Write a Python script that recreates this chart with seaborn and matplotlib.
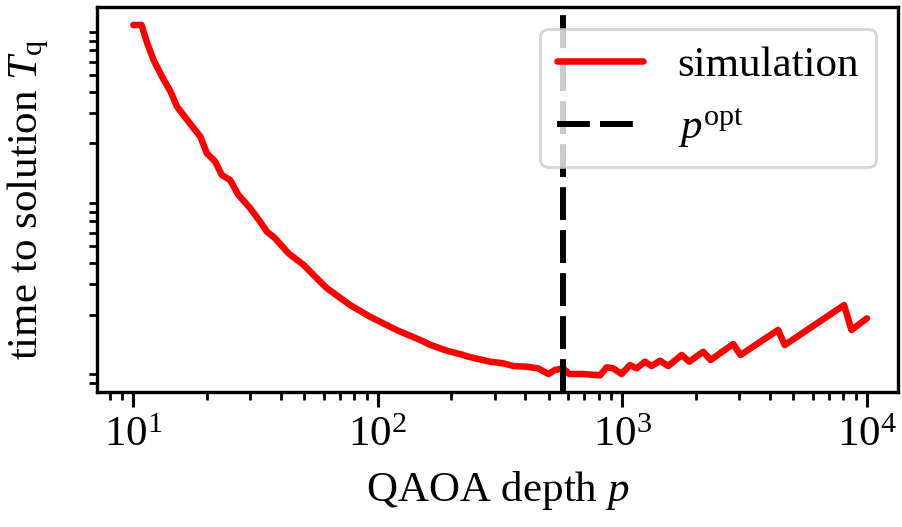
import numpy as np
import pandas as pd
import seaborn as sns
import matplotlib
matplotlib.use("Agg")
import matplotlib.pyplot as plt
from matplotlib.ticker import NullFormatter

# ── data ────────────────────────────────────────────────────────────────
depth_p = [10, 10.8, 11.4, 12.1, 13.1, 14.2, 15.1, 16.6, 18.8, 20.0,
           21.6, 23.0, 24.9, 26.9, 30.0, 33.0, 35.2, 38.0, 43.1, 49.7,
           57.2, 61.9, 77.1, 93.0, 119.7, 148.9, 163.7, 191.4, 216.8, 234.5,
           287.6, 326, 358, 406, 453, 498, 530, 573, 607, 692,
           810, 863, 918, 993, 1074, 1144, 1237, 1318, 1425, 1541,
           1748, 1877, 2142, 2296, 2840, 3043, 4333, 4616, 8070, 8650,
           10000]
time_tq = [98.6, 98.6, 77.1, 61.5, 49.2, 40.2, 32.8, 27.5, 21.9, 17.5,
           15.7, 13.1, 12.2, 10.0, 8.4, 6.98, 6.10, 5.58, 4.56, 3.90,
           3.18, 2.85, 2.27, 1.94, 1.62, 1.42, 1.33, 1.229, 1.175, 1.134,
           1.060, 1.037, 1.0, 0.991, 0.969, 0.898, 0.948, 0.969, 0.898, 0.898,
           0.882, 0.983, 0.969, 0.898, 1.013, 0.969, 1.06, 1.0, 1.074, 1.0,
           1.16, 1.06, 1.212, 1.084, 1.345, 1.16, 1.624, 1.327, 2.27, 1.624,
           1.90]
p_opt = 573

df = pd.DataFrame({"p": depth_p, "T": time_tq})

sns.set_style("ticks")
plt.rcParams["font.family"] = ["Liberation Serif", "DejaVu Serif"]
plt.rcParams["mathtext.fontset"] = "custom"
plt.rcParams["mathtext.rm"] = "Liberation Serif"
plt.rcParams["mathtext.it"] = "Liberation Serif:italic"
plt.rcParams["mathtext.bf"] = "Liberation Serif:bold"
plt.rcParams["text.color"] = "black"
plt.rcParams["axes.labelcolor"] = "black"
plt.rcParams["xtick.color"] = "black"
plt.rcParams["ytick.color"] = "black"

fig = plt.figure(figsize=(9.02, 5.27), dpi=100)
ax = fig.add_axes([0.1075, 0.2562, 0.888, 0.7305])

sns.lineplot(data=df, x="p", y="T", ax=ax, color="red", linewidth=4.7,
             estimator=None, sort=False, label="simulation")
ax.axvline(p_opt, color="black", linestyle=(0, (5.5, 1.7)), linewidth=4.3,
           label=r"$p^\mathrm{opt}$")

ax.set_xscale("log")
ax.set_yscale("log")
ax.set_xlim(7.1, 13400)
ax.set_ylim(0.705, 125.6)
ax.set_yticks([])
ax.yaxis.set_minor_formatter(NullFormatter())
ax.xaxis.set_minor_formatter(NullFormatter())

for side in ax.spines.values():
    side.set_linewidth(2.4)
    side.set_color("black")
ax.tick_params(which="major", length=10.8, width=2.2, labelsize=31, pad=7)
ax.tick_params(which="minor", length=5.8, width=2.0)

ax.set_xlabel(r"QAOA depth $p$", fontsize=31, labelpad=10)
ax.set_ylabel(r"time to solution $T_\mathrm{q}$", fontsize=31, labelpad=24)

leg = ax.legend(loc="upper right", fontsize=31, framealpha=0.8,
                handlelength=2.0, borderaxespad=0.5)
leg.get_frame().set_linewidth(2.0)

fig.savefig("out.png", dpi=100)
